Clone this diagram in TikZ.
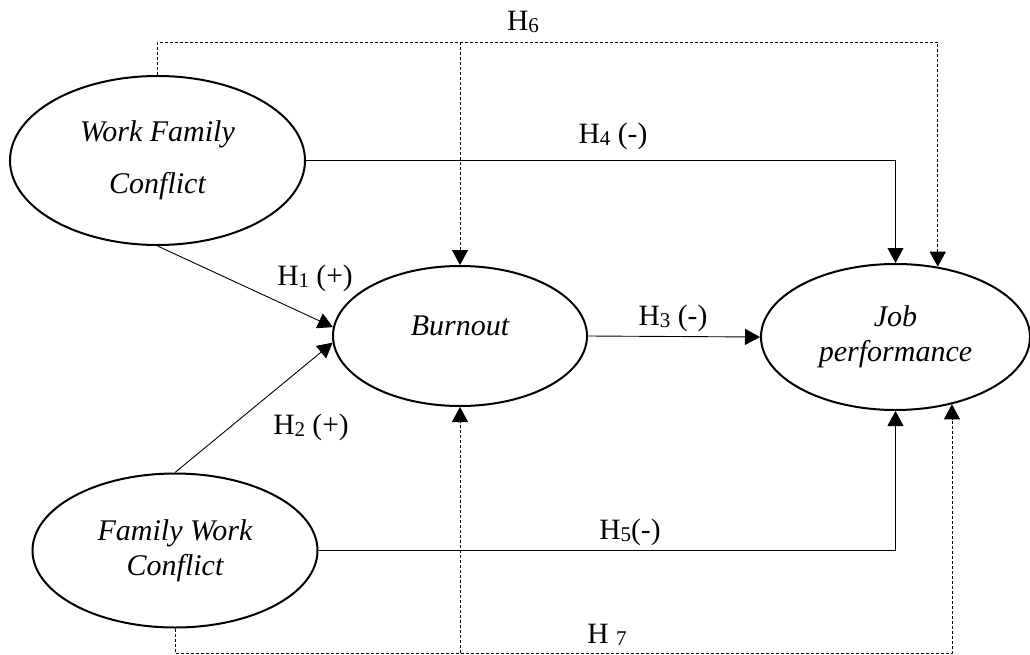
\documentclass[tikz,border=0pt]{standalone}
\usepackage{fontspec}
\setmainfont{Liberation Serif}
\usetikzlibrary{shapes.geometric,arrows.meta}

\newcommand{\hyp}[1]{\raisebox{-2pt}{\fontsize{21}{21}\selectfont #1}}

\begin{document}
\begin{tikzpicture}[x=1pt,y=-1pt,
  every node/.style={font=\fontsize{29.5}{34}\selectfont},
  construct/.style={draw, ellipse, line width=2pt, inner sep=0pt, align=center,
    font=\fontsize{30}{35}\selectfont\itshape},
  link/.style={line width=0.9pt, -{Triangle[length=15pt,width=16pt]}},
  dashlink/.style={link, dash pattern=on 3pt off 2pt}]
  \useasboundingbox (0,0) rectangle (1030,655);

  \node[construct, minimum width=295pt, minimum height=169pt] (wfc) at (157.5,160.5) {Work Family\\[17pt]Conflict};
  \node[construct, minimum width=285pt, minimum height=154pt] (fwc) at (175,550.5) {Family Work\\Conflict};
  \node[construct, minimum width=254pt, minimum height=140pt, align=none, text height=20pt, text depth=22pt] (burnout) at (460,336) {Burnout};
  \node[construct, minimum width=269pt, minimum height=146pt] (jp) at (895.5,337) {Job\\performance};

  \coordinate (h6line) at (520,42);
  \coordinate (h7line) at (600,653);

  \draw[link] (wfc.south) -- (burnout.176);
  \draw[link] (fwc.north) -- (burnout.183);
  \draw[link] (burnout.east) -- (jp.west);
  \draw[link] (wfc.east) -| (jp.north);
  \draw[link] (fwc.east) -| (jp.south);

  \draw[dashlink] (wfc.north) |- (h6line) -| (jp.59);
  \draw[dashlink] (burnout.north |- h6line) -- (burnout.north);
  \draw[dashlink] (fwc.south) |- (h7line) -| (jp.-50);
  \draw[dashlink] (burnout.south |- h7line) -- (burnout.south);

  \node (h6) at (523,22) {H\hyp{6}};
  \node (h4) at (613,136) {H\hyp{4} (-)};
  \node (h1) at (315,278) {H\hyp{1} (+)};
  \node (h3) at (673,318) {H\hyp{3} (-)};
  \node (h2) at (311,427) {H\hyp{2} (+)};
  \node (h5) at (630,532) {H\hyp{5}(-)};
  \node (h7) at (607,635) {H \hyp{7}};
\end{tikzpicture}
\end{document}
